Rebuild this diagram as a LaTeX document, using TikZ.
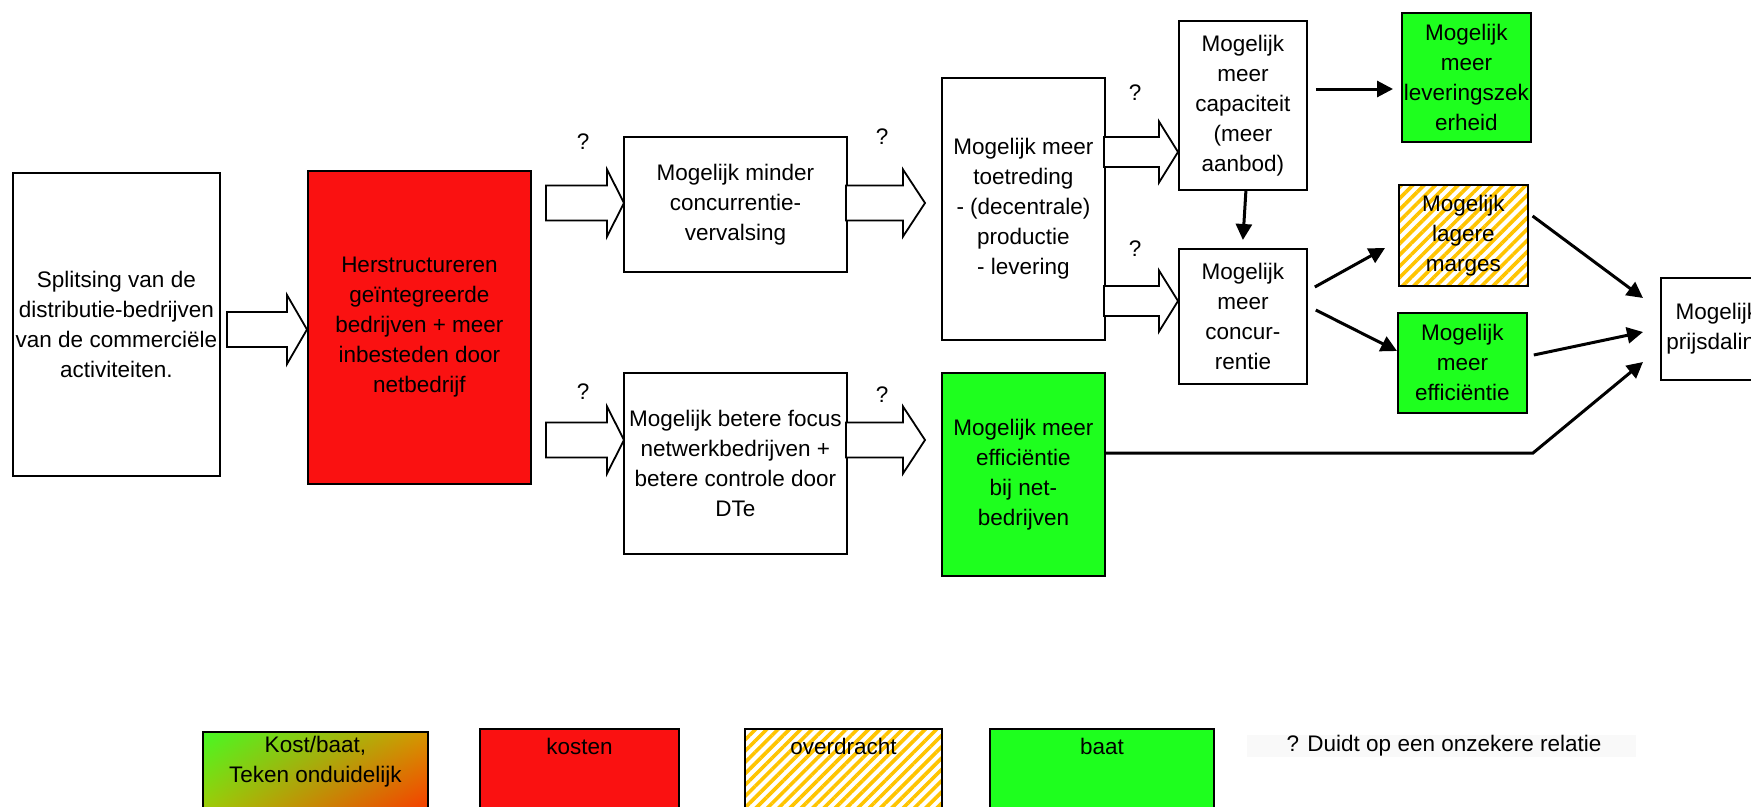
\documentclass[tikz,border=0pt]{standalone}
\usepackage{fontspec}
\setmainfont{Liberation Sans}
\usetikzlibrary{arrows.meta,patterns.meta,calc,shadings}
\definecolor{bred}{RGB}{250,17,17}
\definecolor{bgreen}{RGB}{30,255,30}
\definecolor{hatchy}{RGB}{255,196,0}
\definecolor{kbul}{RGB}{70,248,35}
\definecolor{kbur}{RGB}{215,150,0}
\definecolor{kbll}{RGB}{185,190,0}
\definecolor{kblr}{RGB}{255,35,0}
\newcommand\blkarrow[6]{%
  \draw[blk] (#1,#4-#5) -- (#2,#4-#5) -- (#2,#4-#6) -- (#3,#4) -- (#2,#4+#6) -- (#2,#4+#5) -- (#1,#4+#5) -- cycle;}
\tikzset{
  txt/.style={font=\fontsize{22.5}{30}\selectfont, align=center},
  box/.style={txt, draw=black, line width=1.8pt, inner sep=1pt, anchor=north west},
  redbox/.style={box, fill=bred},
  greenbox/.style={box, fill=bgreen},
  hatchbox/.style={box, pattern={Lines[angle=45,distance=8pt,line width=3.6pt]}, pattern color=hatchy},
  blk/.style={draw=black, line width=1.8pt, fill=white, line join=miter},
  arr/.style={line width=3pt, -{Triangle[length=16pt,width=16pt]}},
  qm/.style={txt},
  legbox/.style={draw=black, line width=1.8pt, anchor=north west, inner sep=0pt},
}
\begin{document}
\begin{tikzpicture}[x=1pt,y=-1pt]
\useasboundingbox (0,0) rectangle (1751,806);
\fill[white] (0,0) rectangle (1751,806);

% main boxes
\node[box, minimum width=207pt, minimum height=303pt] (split) at (12,172)
  {Splitsing van de\\distributie-bedrijven\\van de commerciële\\activiteiten.};
\node[redbox, minimum width=223pt, minimum height=313pt] (herstr) at (307,170)
  {Herstructureren\\geïntegreerde\\bedrijven + meer\\inbesteden door\\netbedrijf};
\node[box, minimum width=223pt, minimum height=135pt] (minder) at (623,136)
  {Mogelijk minder\\concurrentie-\\vervalsing};
\node[box, minimum width=223pt, minimum height=181pt] (focus) at (623,372)
  {Mogelijk betere focus\\netwerkbedrijven +\\betere controle door\\DTe};
\node[box, minimum width=163pt, minimum height=262pt] (toetr) at (941,77)
  {Mogelijk meer\\toetreding\\- (decentrale)\\productie\\- levering};
\node[greenbox, minimum width=163pt, minimum height=203pt] (neteff) at (941,372)
  {Mogelijk meer\\efficiëntie\\bij net-\\bedrijven};
\node[box, minimum width=128pt, minimum height=169pt] (cap) at (1178,20)
  {Mogelijk\\meer\\capaciteit\\(meer\\aanbod)};
\node[box, minimum width=128pt, minimum height=135pt] (conc) at (1178,248)
  {Mogelijk\\meer\\concur-\\rentie};
\node[greenbox, minimum width=129pt, minimum height=129pt, inner sep=0pt] (lev) at (1401,12)
  {Mogelijk\\meer\\leveringszek\\erheid};
\node[hatchbox, minimum width=129pt, minimum height=101pt] (marges) at (1397,183)
  {Mogelijk\\lagere\\marges};
\node[greenbox, minimum width=129pt, minimum height=100pt] (eff) at (1397,312)
  {Mogelijk\\meer\\efficiëntie};
\node[box, minimum width=112pt, minimum height=102pt] (prijs) at (1660,277)
  {Mogelijk\\prijsdaling};

% block arrows
\blkarrow{227}{287}{307}{329.5}{17.5}{34.5}
\blkarrow{546}{607}{624}{203}{17.5}{33.5}
\blkarrow{546}{607}{624}{440}{17.5}{33.5}
\blkarrow{846}{903}{925}{203}{17.5}{33.5}
\blkarrow{846}{903}{925}{440}{17.5}{33.5}
\blkarrow{1104}{1159}{1178}{152}{15}{30.5}
\blkarrow{1104}{1159}{1178}{301}{15}{30.5}

% question marks
\node[qm] (q1) at (583,142) {?};
\node[qm] (q2) at (882,137) {?};
\node[qm] (q3) at (583,392) {?};
\node[qm] (q4) at (882,395) {?};
\node[qm] (q5) at (1135,93) {?};
\node[qm] (q6) at (1135,249) {?};

% arrows
\draw[arr] ($(cap.east|-0,89)+(8,0)$) -- ($(lev.west|-0,89)+(-8,0)$);
\draw[arr] ($(cap.south)+(3,0)$) -- ($(conc.north)+(0,-8)$);
\draw[arr] ($(conc.east|-0,287)+(7,0)$) -- ($(marges.west|-0,248)+(-12,0)$);
\draw[arr] ($(conc.east|-0,310)+(8,0)$) -- ($(eff.west|-0,351)+(0,0)$);
\draw[arr] ($(marges.east|-0,216)+(3,0)$) -- ($(prijs.west|-0,298)+(-17,0)$);
\draw[arr] ($(eff.east|-0,355)+(6,0)$) -- ($(prijs.west|-0,332)+(-17,0)$);
\draw[arr] (neteff.east|-0,453) -- (1533,453) -- ($(prijs.west|-0,362)+(-17,0)$);

% legend
\node[legbox, minimum width=225pt, minimum height=100pt,
      upper left=kbul, upper right=kbur, lower left=kbll, lower right=kblr] (lkb) at (202,731) {};
\node[txt] (lkbt) at (lkb.north|-0,761.5) {Kost/baat,\\Teken onduidelijk};
\node[legbox, fill=bred, minimum width=199pt, minimum height=100pt] (lkost) at (479,728) {};
\node[txt] (lkostt) at (lkost.north|-0,746) {kosten};
\node[legbox, pattern={Lines[angle=45,distance=8pt,line width=3.6pt]}, pattern color=hatchy,
      minimum width=197pt, minimum height=100pt] (lover) at (744,728) {};
\node[txt] (lovert) at (lover.north|-0,746) {overdracht};
\node[legbox, fill=bgreen, minimum width=224pt, minimum height=100pt] (lbaat) at (989,728) {};
\node[txt] (lbaatt) at (lbaat.north|-0,746) {baat};
\fill[gray!5] (1247,735) rectangle (1636,757);
\node[txt] (lq) at (1444,746) {? Duidt op een onzekere relatie};
\end{tikzpicture}
\end{document}
